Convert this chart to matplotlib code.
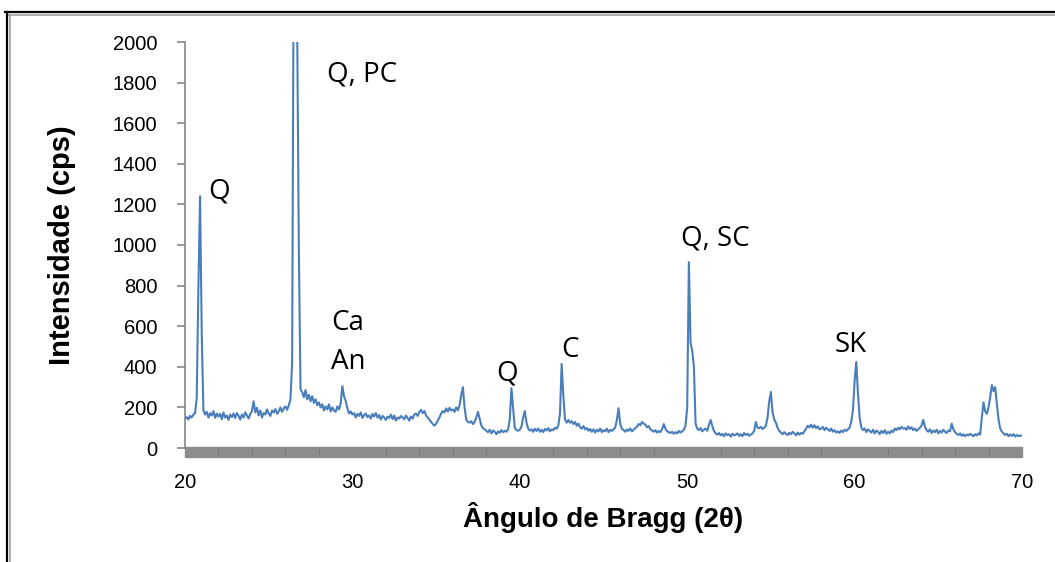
import numpy as np
import matplotlib.pyplot as plt
from matplotlib.patches import Rectangle
from matplotlib.lines import Line2D

# Difratograma: 20-70 graus, passo 0.1
two_theta = np.round(np.arange(20.0, 70.05, 0.1), 1)

counts = [
    # 20
    145, 152, 140, 158, 150, 165, 172, 245, 790, 1240,
    # 21
    560, 185, 165, 178, 150, 172, 160, 182, 148, 170,
    # 22
    155, 168, 142, 175, 150, 160, 138, 165, 152, 170,
    # 23
    148, 172, 158, 140, 165, 150, 176, 160, 145, 168,
    # 24
    182, 230, 175, 198, 160, 185, 150, 172, 165, 190,
    # 25
    170, 158, 185, 175, 192, 168, 180, 200, 178, 195,
    # 26
    205, 188, 210, 240, 420, 2600, 3400, 2100, 980, 290,
    # 27
    275, 250, 285, 240, 262, 230, 255, 222, 240, 210,
    # 28
    225, 200, 215, 185, 205, 190, 215, 180, 200, 185,
    # 29
    178, 205, 190, 220, 305, 255, 232, 195, 170, 180,
    # 30
    165, 172, 150, 168, 158, 175, 148, 162, 170, 152,
    # 31
    160, 145, 168, 155, 172, 150, 162, 140, 158, 150,
    # 32
    138, 155, 148, 165, 142, 160, 135, 150, 145, 158,
    # 33
    150, 142, 160, 148, 135, 155, 145, 165, 170, 158,
    # 34
    178, 188, 172, 182, 160, 150, 140, 128, 118, 110,
    # 35
    120, 135, 150, 170, 182, 175, 195, 180, 198, 185,
    # 36
    190, 178, 200, 185, 210, 260, 300, 200, 140, 128,
    # 37
    125, 132, 118, 128, 150, 178, 145, 112, 98, 92,
    # 38
    85, 78, 90, 72, 86, 80, 68, 82, 75, 88,
    # 39
    78, 85, 80, 92, 140, 295, 200, 100, 88, 85,
    # 40
    90, 105, 150, 182, 125, 95, 86, 92, 80, 95,
    # 41
    84, 96, 80, 90, 78, 94, 86, 98, 82, 92,
    # 42
    88, 100, 95, 110, 170, 414, 260, 140, 125, 138,
    # 43
    125, 132, 118, 128, 110, 120, 102, 95, 108, 92,
    # 44
    98, 85, 94, 80, 92, 76, 90, 82, 96, 78,
    # 45
    88, 82, 95, 78, 90, 84, 92, 100, 140, 196,
    # 46
    118, 95, 88, 80, 92, 84, 96, 82, 90, 98,
    # 47
    105, 118, 112, 128, 120, 115, 102, 108, 92, 86,
    # 48
    80, 88, 76, 84, 78, 92, 118, 95, 82, 78,
    # 49
    74, 80, 70, 78, 72, 84, 76, 82, 90, 110,
    # 50
    200, 916, 520, 480, 400, 120, 95, 88, 98, 82,
    # 51
    90, 96, 85, 115, 138, 108, 84, 72, 66, 74,
    # 52
    62, 70, 58, 72, 64, 68, 56, 70, 62, 66,
    # 53
    72, 60, 68, 58, 74, 64, 70, 60, 66, 72,
    # 54
    85, 128, 100, 98, 104, 94, 100, 110, 150, 230,
    # 55
    276, 175, 140, 125, 100, 84, 76, 68, 78, 70,
    # 56
    64, 75, 68, 80, 72, 62, 76, 66, 74, 70,
    # 57
    82, 95, 110, 102, 115, 100, 112, 98, 106, 92,
    # 58
    96, 104, 88, 100, 92, 84, 96, 80, 88, 76,
    # 59
    82, 74, 86, 78, 90, 84, 92, 100, 130, 185,
    # 60
    330, 424, 270, 150, 102, 88, 96, 78, 92, 84,
    # 61
    76, 90, 72, 86, 80, 68, 84, 74, 88, 70,
    # 62
    80, 72, 86, 78, 96, 88, 100, 92, 104, 96,
    # 63
    98, 90, 106, 94, 102, 88, 96, 84, 92, 100,
    # 64
    110, 138, 105, 88, 80, 92, 74, 86, 78, 90,
    # 65
    72, 84, 76, 90, 80, 74, 86, 82, 120, 92,
    # 66
    78, 70, 64, 72, 60, 68, 58, 66, 62, 70,
    # 67
    64, 58, 68, 62, 72, 66, 150, 225, 180, 168,
    # 68
    200, 250, 310, 280, 300, 215, 140, 95, 80, 72,
    # 69
    64, 70, 58, 66, 60, 68, 56, 64, 58, 62,
    # 70
    60,
]

# identificacao das fases
phase_labels = ["Q", "Q, PC", "Ca", "An", "Q", "C", "Q, SC", "SK"]
label_pos = [(21.37, 1266), (28.48, 1842), (28.72, 616), (28.72, 424),
             (38.58, 369), (42.46, 483), (49.63, 1034), (58.83, 507)]

y_ticks = list(range(0, 2001, 200))
x_ticks = [20, 30, 40, 50, 60, 70]

fig = plt.figure(figsize=(10.55, 5.62), dpi=100)
ax = fig.add_axes([185 / 1055, 1 - 448 / 562, 837 / 1055, 406 / 562])

ax.plot(two_theta, counts, color="#4a7ebb", lw=1.5)

ax.set_xlim(20, 70)
ax.set_ylim(0, 2000)

for s in ["top", "right", "bottom"]:
    ax.spines[s].set_visible(False)
ax.spines["left"].set_color("#868686")
ax.spines["left"].set_linewidth(1.2)

# piso cinza do grafico
ax.add_patch(Rectangle((0, -0.021), 1, 0.023, transform=ax.transAxes,
                       color="#8c8c8c", clip_on=False, zorder=1))

tick_font = {"family": ["Liberation Sans"], "size": 14.5}
ax.set_yticks(y_ticks)
ax.set_yticklabels([str(v) for v in y_ticks], fontdict=tick_font)
ax.set_xticks(x_ticks)
ax.set_xticklabels([str(v) for v in x_ticks], fontdict=tick_font)
ax.set_xticks(range(20, 71, 2), minor=True)
ax.tick_params(axis="y", length=6, width=1.2, color="#868686", pad=14)
ax.tick_params(axis="x", which="major", length=0, pad=18)
ax.tick_params(axis="x", which="minor", length=5, width=0.7, color="#767676")

ax.set_xlabel("Ângulo de Bragg (2θ)", family="Liberation Sans", weight="bold",
              fontsize=20, labelpad=7)
ax.set_ylabel("Intensidade (cps)", family="Liberation Sans", weight="bold",
              fontsize=21, labelpad=26)

for txt, (x, y) in zip(phase_labels, label_pos):
    ax.text(x, y, txt, family="Open Sans", fontsize=20, ha="left", va="center")

# moldura
fig.add_artist(Line2D([5 / 1055, 1], [1 - 12 / 562] * 2, color="black", lw=1.6))
fig.add_artist(Line2D([8 / 1055, 1], [1 - 15 / 562] * 2, color="#a0a0a0", lw=1.2))
fig.add_artist(Line2D([7 / 1055] * 2, [0, 1 - 12 / 562], color="black", lw=1.6))
fig.add_artist(Line2D([10 / 1055] * 2, [0, 1 - 15 / 562], color="#a0a0a0", lw=1.2))

fig.savefig("out.png", dpi=100)
